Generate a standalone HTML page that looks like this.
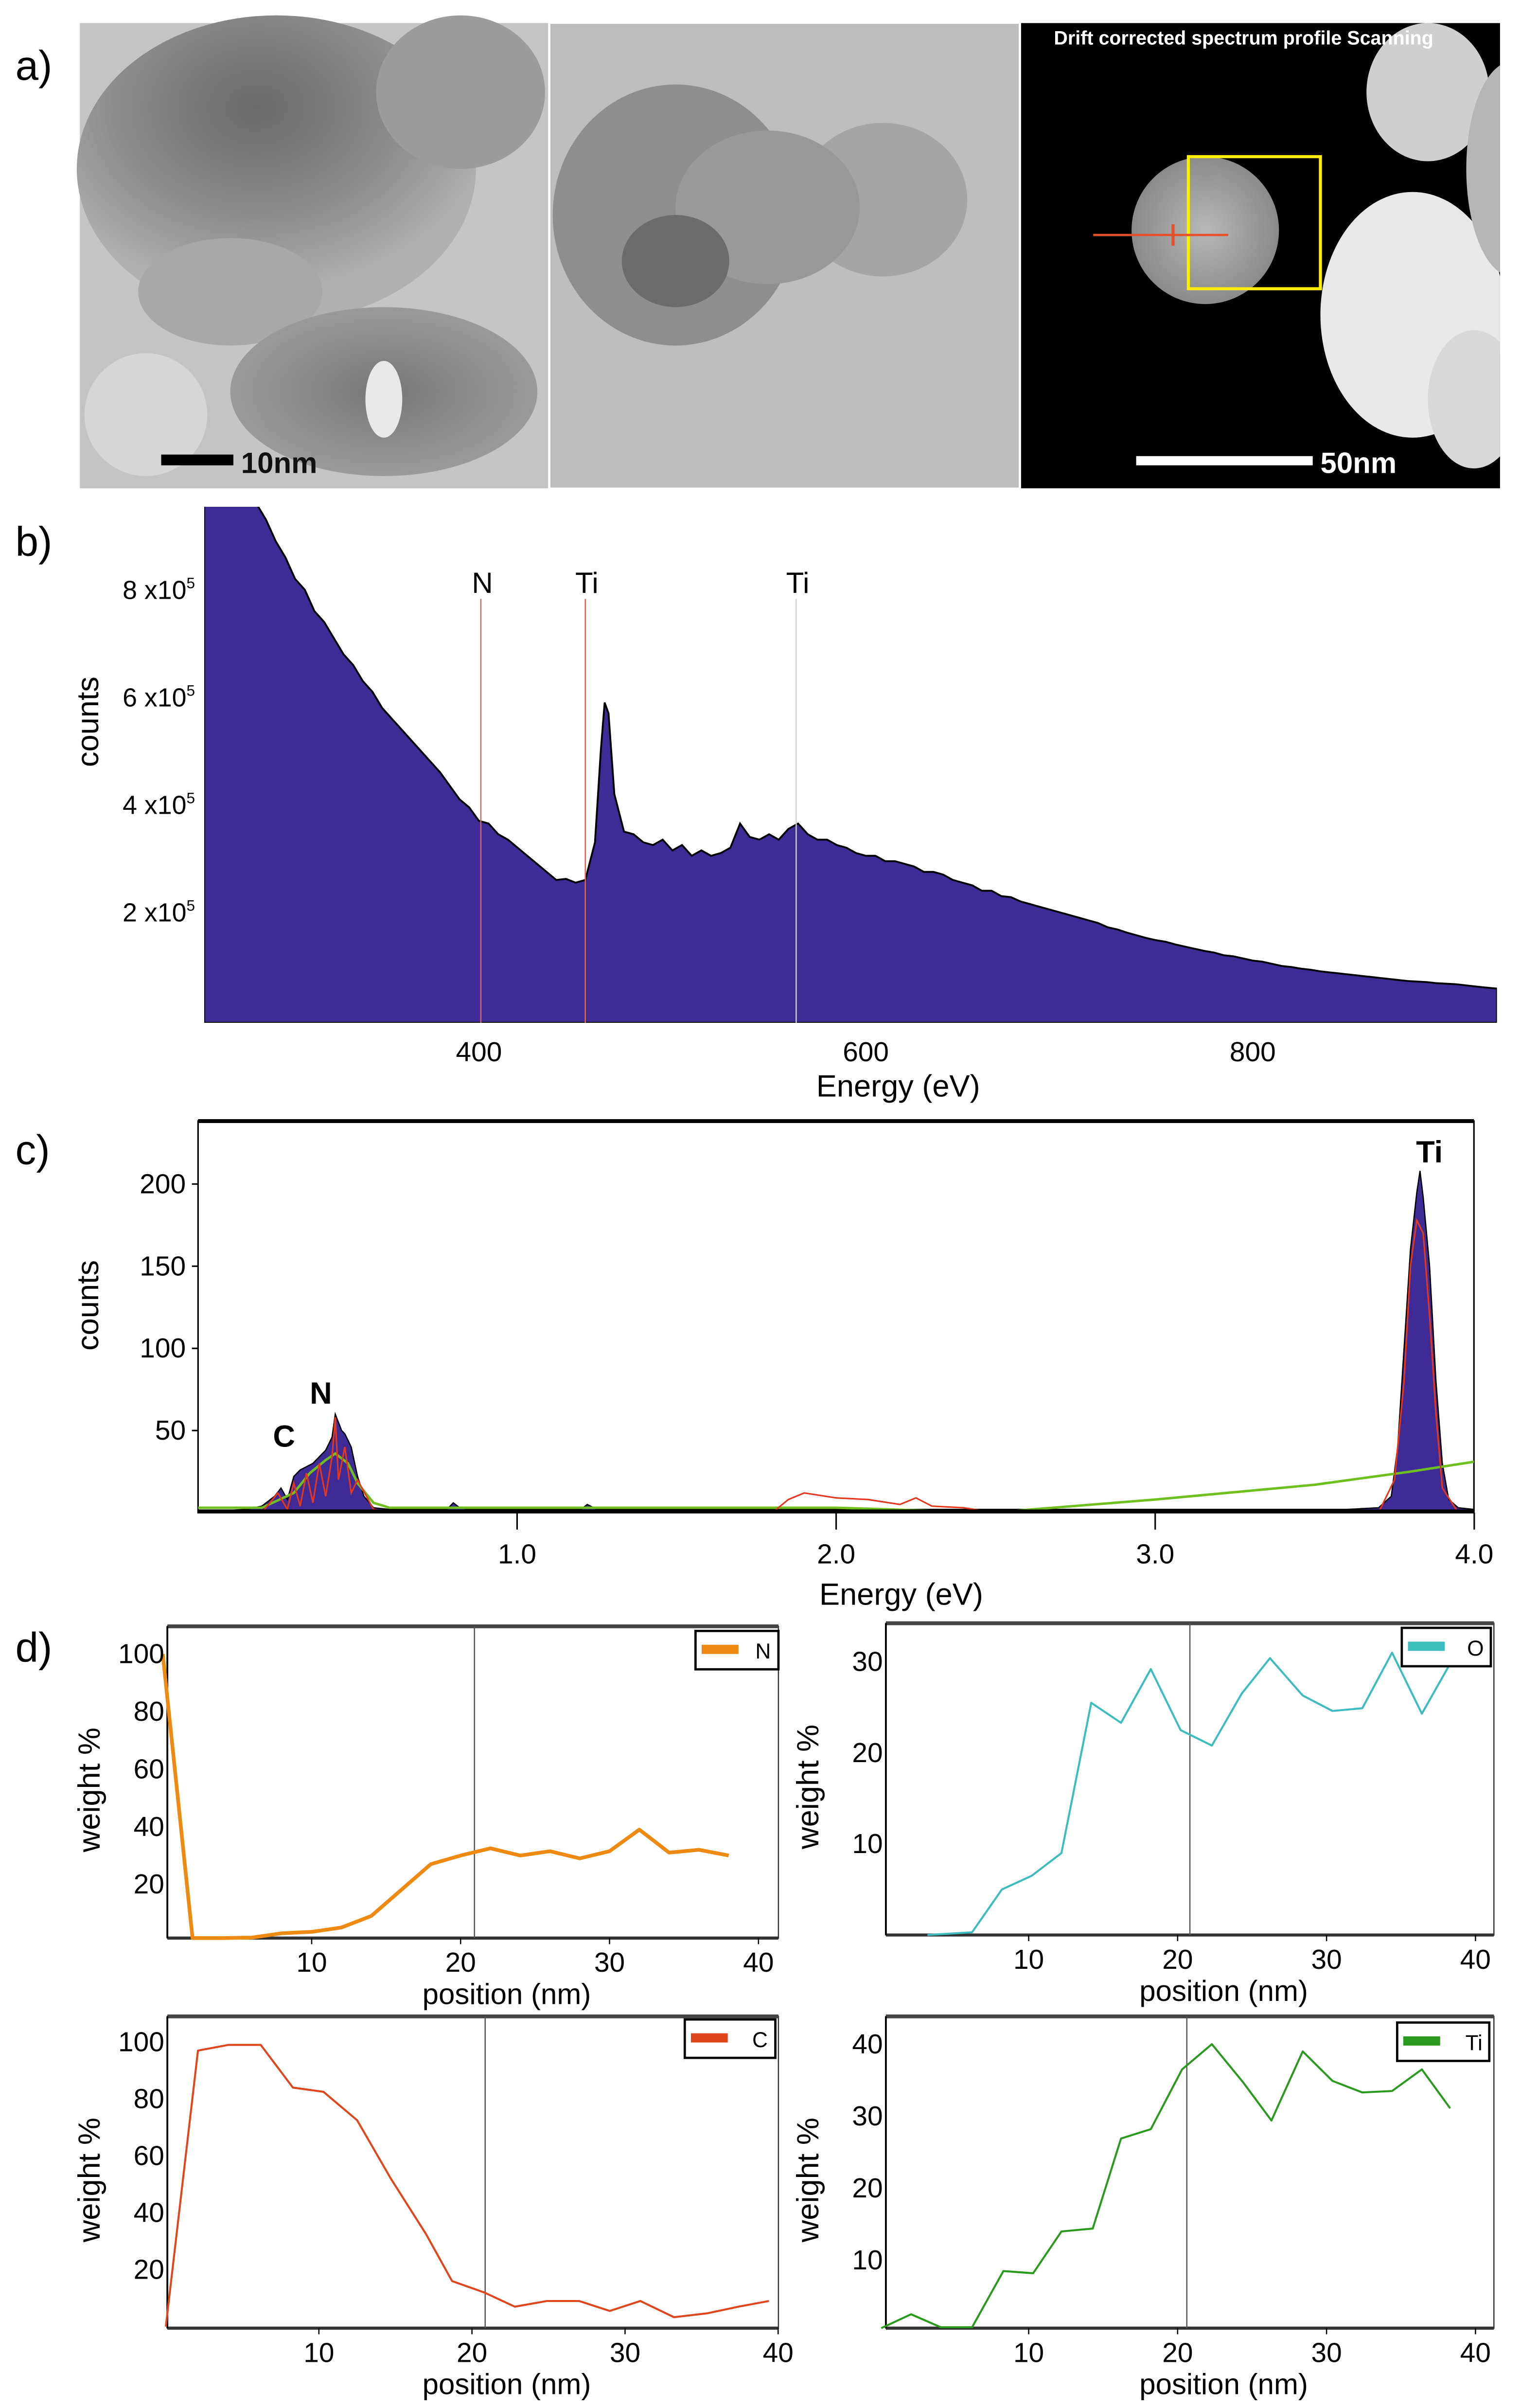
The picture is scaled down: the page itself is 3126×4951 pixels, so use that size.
<!DOCTYPE html>
<html><head><meta charset="utf-8">
<style>
html,body{margin:0;padding:0;background:#fff;}
svg{display:block;font-family:"Liberation Sans",Arial,sans-serif;}
</style></head>
<body>
<svg id="fig" xmlns="http://www.w3.org/2000/svg" width="3126" height="4951" viewBox="0 0 990 1568" preserveAspectRatio="none">
<defs>
  <radialGradient id="g1" cx="0.45" cy="0.3" r="0.6"><stop offset="0" stop-color="#6a6a6a"/><stop offset="0.6" stop-color="#8c8c8c"/><stop offset="1" stop-color="#b0b0b0"/></radialGradient>
  <radialGradient id="g2" cx="0.5" cy="0.5" r="0.5"><stop offset="0" stop-color="#777"/><stop offset="1" stop-color="#9a9a9a"/></radialGradient>
  <radialGradient id="g3" cx="0.5" cy="0.5" r="0.5"><stop offset="0" stop-color="#b8b8b8"/><stop offset="1" stop-color="#8a8a8a"/></radialGradient>
  <clipPath id="clipB"><rect x="133" y="330" width="842" height="336"/></clipPath>
  <clipPath id="clipC"><rect x="129" y="730" width="831" height="255"/></clipPath>
  <clipPath id="clipI3"><rect x="665" y="15" width="312" height="303"/></clipPath>
</defs>

<!-- Panel a -->
<g>
  <text x="10" y="52" font-size="27">a)</text>
  <g>
    <rect x="52" y="15" width="305" height="303" fill="#c4c4c4"/>
    <ellipse cx="180" cy="110" rx="130" ry="100" fill="url(#g1)"/>
    <ellipse cx="300" cy="60" rx="55" ry="50" fill="#9c9c9c"/>
    <ellipse cx="150" cy="190" rx="60" ry="35" fill="#a8a8a8"/>
    <ellipse cx="250" cy="255" rx="100" ry="55" fill="url(#g2)"/>
    <ellipse cx="95" cy="270" rx="40" ry="40" fill="#d6d6d6"/>
    <ellipse cx="250" cy="260" rx="12" ry="25" fill="#e8e8e8"/>
    <rect x="105" y="296" width="47" height="7" fill="#000"/>
    <text x="157" y="308" font-size="19" font-weight="bold" fill="#111">10nm</text>
  </g>
  <g>
    <rect x="358" y="15" width="306" height="303" fill="#bdbdbd"/>
    <ellipse cx="440" cy="140" rx="80" ry="85" fill="#8e8e8e"/>
    <ellipse cx="575" cy="130" rx="55" ry="50" fill="#a5a5a5"/>
    <ellipse cx="500" cy="135" rx="60" ry="50" fill="#999"/>
    <ellipse cx="440" cy="170" rx="35" ry="30" fill="#6c6c6c"/>
    <rect x="358" y="15" width="306" height="303" fill="none" stroke="#fff" stroke-width="1"/>
  </g>
  <g clip-path="url(#clipI3)">
    <rect x="665" y="15" width="312" height="303" fill="#000"/>
    <circle cx="785" cy="150" r="48" fill="url(#g3)"/>
    <ellipse cx="920" cy="205" rx="60" ry="80" fill="#e8e8e8"/>
    <ellipse cx="930" cy="60" rx="40" ry="45" fill="#cfcfcf"/>
    <ellipse cx="985" cy="110" rx="30" ry="70" fill="#b5b5b5"/>
    <ellipse cx="960" cy="260" rx="30" ry="45" fill="#d8d8d8"/>
    <rect x="774" y="102" width="86" height="86" fill="none" stroke="#ffee00" stroke-width="2"/>
    <line x1="712" y1="153" x2="800" y2="153" stroke="#e5502a" stroke-width="1.5"/>
    <line x1="764" y1="146" x2="764" y2="160" stroke="#e5502a" stroke-width="2"/>
    <text x="810" y="29" font-size="12.5" font-weight="bold" fill="#fff" text-anchor="middle">Drift corrected spectrum profile Scanning</text>
    <rect x="740" y="297" width="115" height="6" fill="#fff"/>
    <text x="860" y="308" font-size="19" font-weight="bold" fill="#fff">50nm</text>
  </g>
</g>

<!-- Panel b -->
<g id="panelB">
  <text x="10" y="362" font-size="27">b)</text>
  <text transform="translate(64,470) rotate(-90)" font-size="20" text-anchor="middle">counts</text>
  <text x="585" y="714" font-size="20" text-anchor="middle">Energy (eV)</text>
</g>

<!-- Panel c -->
<g id="panelC">
  <text x="10" y="758" font-size="27">c)</text>
  <text transform="translate(64,850) rotate(-90)" font-size="20" text-anchor="middle">counts</text>
  <text x="587" y="1045" font-size="20" text-anchor="middle">Energy (eV)</text>
</g>

<g id="panelD">
  <text x="10" y="1082" font-size="27">d)</text>
</g>
</svg>

<script>
// ---------- Panel b data ----------
const bEnergy = [260,265,270,275,280,285,290,295,300,305,310,315,320,325,330,335,340,345,350,355,360,365,370,375,380,385,390,395,400,405,410,415,420,425,430,435,440,445,450,455,460,463,465,467,470,475,480,485,490,495,500,505,510,515,520,525,530,535,540,545,550,555,560,565,570,575,580,585,590,595,600,605,610,615,620,625,630,635,640,645,650,655,660,665,670,675,680,685,690,695,700,705,710,715,720,725,730,735,740,745,750,755,760,765,770,775,780,785,790,795,800,805,810,815,820,825,830,835,840,845,850,855,860,865,870,875,880,885,890,895,900,905,910,915,920,926];
const bCounts = [9.6,9.6,9.6,9.6,9.6,9.6,9.3,8.9,8.6,8.2,8.0,7.6,7.4,7.1,6.8,6.6,6.3,6.1,5.8,5.6,5.4,5.2,5.0,4.8,4.6,4.35,4.1,3.95,3.7,3.65,3.45,3.35,3.2,3.05,2.9,2.75,2.6,2.62,2.55,2.6,3.3,5.0,5.9,5.7,4.2,3.5,3.45,3.3,3.25,3.35,3.15,3.25,3.05,3.15,3.05,3.1,3.2,3.65,3.4,3.35,3.45,3.35,3.55,3.65,3.45,3.35,3.35,3.25,3.2,3.1,3.05,3.05,2.95,2.95,2.9,2.85,2.75,2.75,2.7,2.6,2.55,2.5,2.4,2.4,2.3,2.28,2.2,2.15,2.1,2.05,2.0,1.95,1.9,1.85,1.8,1.72,1.68,1.62,1.57,1.52,1.48,1.45,1.4,1.36,1.32,1.28,1.25,1.2,1.18,1.14,1.1,1.08,1.04,1.0,0.98,0.95,0.93,0.9,0.88,0.86,0.84,0.82,0.8,0.78,0.76,0.74,0.72,0.71,0.7,0.68,0.67,0.66,0.64,0.62,0.6,0.58];
const bYTicks = [2,4,6,8];
const bXTicks = [400,600,800];
const bMarkerEnergy = [401,455,564];
const bMarkerLabel = ["N","Ti","Ti"];

// ---------- Panel c data ----------
const cSpecE = [0.05,0.15,0.2,0.24,0.26,0.28,0.3,0.32,0.34,0.36,0.38,0.4,0.42,0.43,0.44,0.45,0.46,0.48,0.5,0.52,0.55,0.6,0.78,0.8,0.82,0.85,1.2,1.22,1.25,3.6,3.7,3.74,3.76,3.78,3.8,3.82,3.83,3.84,3.86,3.88,3.9,3.92,3.95,4.0];
const cSpecC = [1,2,4,10,15,8,22,26,28,30,34,38,46,60,55,50,48,40,22,10,3,2,2,6,3,2,2,5,2,2,3,10,40,100,160,195,208,192,150,80,30,8,3,2];
const cFitE = [0.2,0.25,0.28,0.3,0.32,0.34,0.36,0.38,0.4,0.42,0.43,0.44,0.46,0.48,0.5,0.55,0.6,1.8,1.85,1.9,2.0,2.1,2.2,2.25,2.3,2.4,2.5,3.7,3.75,3.78,3.8,3.82,3.84,3.86,3.88,3.9,3.95];
const cFitC = [0,12,2,18,4,24,6,30,10,34,58,20,40,12,20,2,0,0,8,12,9,8,5,9,4,3,0,0,20,80,150,178,170,120,60,15,0];
const cBgE = [0,0.2,0.3,0.35,0.4,0.43,0.47,0.5,0.55,0.6,1.0,2.0,2.5,2.55,3.0,3.5,3.8,4.0];
const cBgC = [3,3,12,24,32,36,30,18,6,3,3,3,0,1,8,17,25,31];
const cXTicks = [1.0,2.0,3.0,4.0];
const cYTicks = [50,100,150,200];

// ---------- Panel d data ----------
const nPos = [0,2,4,6,8,10,12,14,16,18,20,22,24,26,28,30,32,34,36,38];
const nWeight = [100,0,0.3,1.5,3,3.5,5,9,18,27,30,32.5,30,31.5,29,31.5,39,31,32,30];
const oPos = [3.2,6.2,8.2,10.2,12.2,14.2,16.2,18.2,20.2,22.3,24.3,26.2,28.4,30.4,32.4,34.4,36.4,38.3];
const oWeight = [0,0.3,5,6.5,9,25.5,23.3,29.2,22.5,20.8,26.5,30.4,26.3,24.6,24.9,31,24.3,29.8];
const cPos = [0,2.1,4.1,6.2,8.3,10.3,12.5,14.7,17,18.7,20.8,22.8,24.9,27,29,31,33.2,35.4,37.4,39.4];
const cWeight = [0,97,99,99,84,82.5,72.5,52,32.5,16,12,7,9,9,5.5,9,3.3,4.7,7,9];
const tiPos = [0.1,2.1,4.1,6.2,8.3,10.3,12.2,14.3,16.2,18.2,20.3,22.3,24.4,26.3,28.4,30.4,32.4,34.4,36.4,38.3];
const tiWeight = [0.5,2.5,0.7,0.7,8.5,8.2,14,14.4,26.9,28.2,36.5,40,34.7,29.4,39,34.9,33.3,33.5,36.5,31.1];
const dXTicks = [10,20,30,40];

const NS = "http://www.w3.org/2000/svg";
function mk(parent, tag, attrs) {
  const e = document.createElementNS(NS, tag);
  for (const k in attrs) e.setAttribute(k, attrs[k]);
  parent.appendChild(e);
  return e;
}

// ---------- Draw panel b ----------
(function(){
  const g = document.getElementById('panelB');
  const xB = e => 133 + (e - 258) * 1.26;
  const yB = v => 664 - v * 35;
  let d = 'M' + xB(258) + ',666';
  d += ' L' + xB(258) + ',' + yB(bCounts[0]);
  for (let i = 0; i < bEnergy.length; i++) {
    d += ' L' + xB(bEnergy[i]) + ',' + yB(bCounts[i]);
  }
  d += ' L975,' + yB(bCounts[bCounts.length-1]) + ' L975,666 Z';
  const area = mk(g, 'path', {d: d, fill: '#3f2b96', stroke: '#000', 'stroke-width': 1.2, 'clip-path': 'url(#clipB)'});
  
  
  bMarkerEnergy.forEach((e, i) => {
    const ln = mk(g, 'line', {x1: xB(e), x2: xB(e), y1: 390, y2: 666, stroke: i < 2 ? '#d9675a' : '#cfcfcf', 'stroke-width': 0.8});
    
    
    const t = mk(g, 'text', {x: xB(e) + 1, y: 386, 'font-size': 19, 'text-anchor': 'middle'});
    t.textContent = bMarkerLabel[i];
    
    
  });
  bYTicks.forEach(v => {
    const t = mk(g, 'text', {x: 127, y: yB(v) + 6, 'font-size': 17, 'text-anchor': 'end'});
    t.textContent = v + ' x10';
    const s = mk(t, 'tspan', {'font-size': 10, dy: -7});
    s.textContent = '5';
    
    
  });
  bXTicks.forEach(v => {
    const t = mk(g, 'text', {x: xB(v), y: 691, 'font-size': 18, 'text-anchor': 'middle'});
    t.textContent = v;
    
    
  });
})();

// ---------- Draw panel c ----------
(function(){
  const g = document.getElementById('panelC');
  const xC = e => 129 + e * 207.8;
  const yC = c => 985 - c * 1.07;
  const box = mk(g, 'rect', {x: 129, y: 730, width: 831, height: 255, fill: 'none', stroke: '#000', 'stroke-width': 1});
  
  
  mk(g, 'line', {x1: 129, x2: 960, y1: 730, y2: 730, stroke: '#000', 'stroke-width': 2.5});
  const cg = mk(g, 'g', {'clip-path': 'url(#clipC)'});
  let d = 'M' + xC(cSpecE[0]) + ',985';
  cSpecE.forEach((e, i) => { d += ' L' + xC(e) + ',' + yC(cSpecC[i]); });
  d += ' L' + xC(4) + ',985 Z';
  const sp = mk(cg, 'path', {d: d, fill: '#3f2b96', stroke: '#000', 'stroke-width': 0.8});
  
  
  let bd = '';
  cBgE.forEach((e, i) => { bd += (i ? ' L' : 'M') + xC(e) + ',' + yC(cBgC[i]); });
  const bg = mk(cg, 'path', {d: bd, fill: 'none', stroke: '#6fbf1f', 'stroke-width': 1.6});
  
  
  let fd = '';
  cFitE.forEach((e, i) => { fd += (i ? ' L' : 'M') + xC(e) + ',' + yC(cFitC[i]); });
  const fit = mk(cg, 'path', {d: fd, fill: 'none', stroke: '#e4371e', 'stroke-width': 1});
  
  
  mk(g, 'line', {x1: 129, x2: 960, y1: 984, y2: 984, stroke: '#000', 'stroke-width': 2.2});
  cXTicks.forEach(v => {
    mk(g, 'line', {x1: xC(v), x2: xC(v), y1: 985, y2: 996, stroke: '#000', 'stroke-width': 1});
    const t = mk(g, 'text', {x: xC(v), y: 1018, 'font-size': 18, 'text-anchor': 'middle'});
    t.textContent = v.toFixed(1);
    
    
  });
  cYTicks.forEach(v => {
    mk(g, 'line', {x1: 125, x2: 129, y1: yC(v), y2: yC(v), stroke: '#000', 'stroke-width': 1});
    const t = mk(g, 'text', {x: 121, y: yC(v) + 6, 'font-size': 18, 'text-anchor': 'end'});
    t.textContent = v;
    
    
  });
  [['C', 185, 942], ['N', 209, 914], ['Ti', 931, 757]].forEach(a => {
    const t = mk(g, 'text', {x: a[1], y: a[2], 'font-size': 20, 'font-weight': 'bold', 'text-anchor': 'middle'});
    t.textContent = a[0];
    
    
  });
})();

// ---------- Draw panel d ----------
function drawProfile(cfg, pos, vals, yTicks) {
  const g = mk(document.getElementById('panelD'), 'g', {});
  
  
  const xS = p => cfg.x0 + p * cfg.xk;
  const yS = v => cfg.y0 - v * cfg.yk;
  mk(g, 'rect', {x: cfg.l, y: cfg.t, width: cfg.r - cfg.l, height: cfg.b - cfg.t, fill: '#fff', stroke: '#333', 'stroke-width': 0.8});
  mk(g, 'line', {x1: cfg.l, x2: cfg.r, y1: cfg.t, y2: cfg.t, stroke: '#444', 'stroke-width': 2.5});
  mk(g, 'line', {x1: cfg.l, x2: cfg.r, y1: cfg.b, y2: cfg.b, stroke: '#333', 'stroke-width': 2});
  mk(g, 'line', {x1: cfg.l, x2: cfg.l, y1: cfg.t, y2: cfg.b, stroke: '#000', 'stroke-width': 1.2});
  mk(g, 'line', {x1: cfg.vx, x2: cfg.vx, y1: cfg.t, y2: cfg.b, stroke: '#555', 'stroke-width': 0.8});
  let d = '';
  pos.forEach((p, i) => { d += (i ? ' L' : 'M') + xS(p) + ',' + Math.min(yS(vals[i]), cfg.b); });
  const ln = mk(g, 'path', {d: d, fill: 'none', stroke: cfg.color, 'stroke-width': cfg.sw, 'stroke-linejoin': 'round'});
  
  
  dXTicks.forEach(v => {
    mk(g, 'line', {x1: xS(v), x2: xS(v), y1: cfg.b, y2: cfg.b + 4, stroke: '#000', 'stroke-width': 0.8});
    const t = mk(g, 'text', {x: xS(v), y: cfg.b + 22, 'font-size': 18, 'text-anchor': 'middle'});
    t.textContent = v;
    
    
  });
  yTicks.forEach(v => {
    const t = mk(g, 'text', {x: cfg.l - 2, y: yS(v) + 6, 'font-size': 18, 'text-anchor': 'end'});
    t.textContent = v;
    
    
  });
  const xt = mk(g, 'text', {x: (cfg.l + cfg.r) / 2 + 22, y: cfg.b + 43, 'font-size': 19, 'text-anchor': 'middle'});
  xt.textContent = 'position (nm)';
  
  
  const yt = mk(g, 'text', {transform: 'translate(' + (cfg.l - 44) + ',' + ((cfg.t + cfg.b) / 2 + 5) + ') rotate(-90)', 'font-size': 20, 'text-anchor': 'middle'});
  yt.textContent = 'weight %';
  
  
  const lg = mk(g, 'g', {});
  
  
  mk(lg, 'rect', {x: cfg.lx, y: cfg.ly, width: cfg.lw, height: 25, fill: '#fff', stroke: '#000', 'stroke-width': 1.5});
  mk(lg, 'rect', {x: cfg.lx + 4, y: cfg.ly + 9, width: 24, height: 6, fill: cfg.color});
  const lt = mk(lg, 'text', {x: cfg.lx + cfg.lw - 10, y: cfg.ly + 18, 'font-size': 14, 'text-anchor': 'middle'});
  lt.textContent = cfg.label;
}
drawProfile({name:'n-profile', l:109, r:507, t:1059, b:1262, x0:106, xk:9.7, y0:1264.5, yk:1.875, vx:309, color:'#ee8a12', sw:2.4, lx:453, ly:1062, lw:54, label:'N'}, nPos, nWeight, [20,40,60,80,100]);
drawProfile({name:'o-profile', l:577, r:973, t:1057, b:1260, x0:573, xk:9.7, y0:1260, yk:5.93, vx:775, color:'#3cbcbc', sw:1.3, lx:913, ly:1060, lw:58, label:'O'}, oPos, oWeight, [10,20,30]);
drawProfile({name:'c-profile', l:109, r:507, t:1313, b:1516, x0:108, xk:9.97, y0:1515, yk:1.853, vx:316, color:'#e0461c', sw:1.3, lx:446, ly:1315, lw:59, label:'C'}, cPos, cWeight, [20,40,60,80,100]);
drawProfile({name:'ti-profile', l:577, r:973, t:1313, b:1516, x0:573, xk:9.7, y0:1518.7, yk:4.69, vx:773, color:'#2a9a1e', sw:1.3, lx:910, ly:1317, lw:60, label:'Ti'}, tiPos, tiWeight, [10,20,30,40]);
</script>
</body></html>
